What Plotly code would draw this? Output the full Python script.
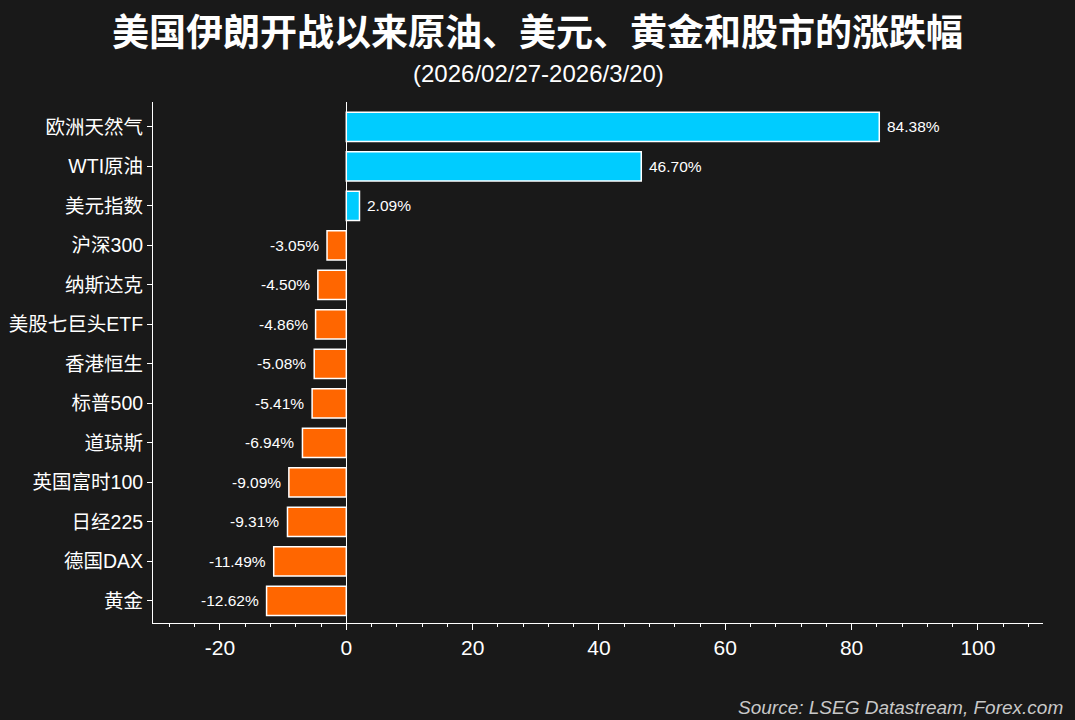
import plotly.graph_objects as go

categories = ["欧洲天然气", "WTI原油", "美元指数", "沪深300", "纳斯达克", "美股七巨头ETF",
              "香港恒生", "标普500", "道琼斯", "英国富时100", "日经225", "德国DAX", "黄金"]
values = [84.38, 46.70, 2.09, -3.05, -4.50, -4.86, -5.08, -5.41, -6.94, -9.09, -9.31, -11.49, -12.62]
x_ticks = [-20, 0, 20, 40, 60, 80, 100]

pos_color = "#00CCFF"
neg_color = "#FF6600"
bg = "#191919"
font_family = "Liberation Sans, Arial, Noto Sans CJK SC, sans-serif"

colors = [pos_color if v >= 0 else neg_color for v in values]
labels = [f"{v:.2f}%" for v in values]
ypos = list(range(len(categories)))

fig = go.Figure()
fig.add_trace(go.Bar(
    x=values, y=ypos, orientation="h",
    marker=dict(color=colors, line=dict(color="white", width=1.5)),
    width=0.74,
))

L, R, T, B = 153, 32, 102, 97
plot_w = 1075 - L - R
plot_h = 720 - T - B

annotations = []
for v, i, lab in zip(values, ypos, labels):
    annotations.append(dict(
        x=v, y=i, xref="x", yref="y", text=lab, showarrow=False,
        xanchor="left" if v >= 0 else "right", yanchor="middle",
        xshift=6 if v >= 0 else -6,
        font=dict(size=15.5, color="white", family=font_family),
    ))

annotations += [
    dict(text="<b>美国伊朗开战以来原油、美元、黄金和股市的涨跌幅</b>", xref="paper", yref="paper",
         x=(537.5 - L) / plot_w, y=1 + (T - 30) / plot_h, xanchor="center", yanchor="middle",
         showarrow=False, font=dict(size=37, color="white", family="Noto Sans CJK SC, sans-serif")),
    dict(text="(2026/02/27-2026/3/20)", xref="paper", yref="paper",
         x=(538.5 - L) / plot_w, y=1 + (T - 73) / plot_h, xanchor="center", yanchor="middle",
         showarrow=False, font=dict(size=24, color="white", family=font_family)),
    dict(text="<i>Source: LSEG Datastream, Forex.com</i>", xref="paper", yref="paper",
         x=1 + (1065 - 1043) / plot_w, y=-(707 - 623) / plot_h, xanchor="right", yanchor="middle",
         showarrow=False, font=dict(size=19, color="#c8c8c8", family=font_family)),
]

fig.update_layout(
    width=1075, height=720,
    paper_bgcolor=bg, plot_bgcolor=bg,
    margin=dict(l=L, r=R, t=T, b=B, autoexpand=False),
    showlegend=False,
    font=dict(family=font_family, color="white"),
    xaxis=dict(
        range=[-30.6, 110.3], tickvals=x_ticks, ticktext=[str(t) for t in x_ticks],
        showgrid=False, zeroline=True, zerolinecolor="white", zerolinewidth=1,
        showline=True, linecolor="white", linewidth=1,
        ticks="outside", ticklen=6, tickcolor="white", tickwidth=1,
        minor=dict(dtick=4, tick0=0, ticks="outside", ticklen=3, tickcolor="white", showgrid=False),
        tickfont=dict(size=21, color="white", family=font_family),
        automargin=False,
    ),
    yaxis=dict(
        range=[12.56, -0.63],
        tickvals=ypos, ticktext=categories,
        showgrid=False, zeroline=False,
        showline=True, linecolor="white", linewidth=1,
        ticks="outside", ticklen=5, tickcolor="white",
        tickfont=dict(size=19.5, color="white", family=font_family),
        automargin=False,
    ),
    annotations=annotations,
)

fig.write_html("out.html")
